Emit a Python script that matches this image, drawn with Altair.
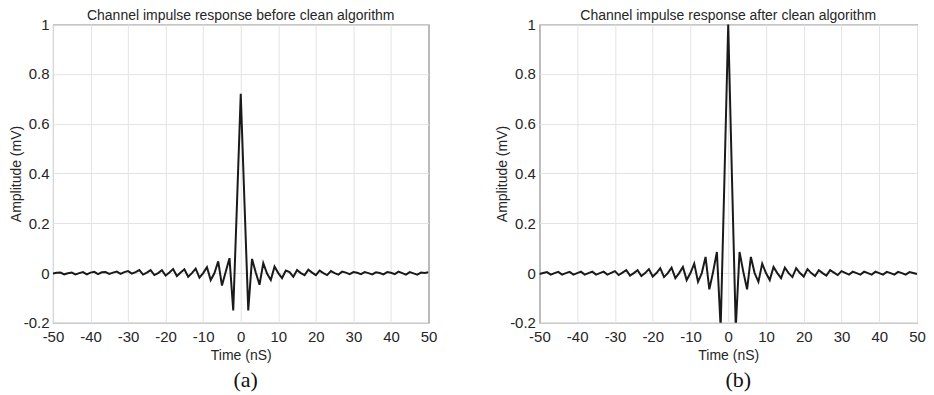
import altair as alt
import pandas as pd

TIME = list(range(-50, 51))

# Panel (a): before clean algorithm, t = -50 ... 50 (step 1 nS)
AMP_BEFORE = [
    -0.002, 0.001, 0.002, -0.005, -0.001, 0.002, -0.005, 0.000, 0.004, -0.005,   # -50..-41
    0.002, 0.005, -0.004, 0.003, 0.004, -0.003, 0.002, 0.006, -0.003, 0.004,      # -40..-31
    0.008, -0.002, 0.004, 0.012, -0.006, 0.002, 0.012, -0.008, 0.000, 0.012,      # -30..-21
    -0.010, 0.002, 0.016, -0.012, 0.002, 0.015, -0.015, 0.000, 0.018, -0.018,     # -20..-11
    0.000, 0.024, -0.028, 0.000, 0.047, -0.050, 0.005, 0.060, -0.150, 0.280,      # -10..-1
    0.720,                                                                        # 0
    0.280, -0.150, 0.057, 0.002, -0.047, 0.040, -0.002, -0.028, 0.026, 0.000,     # 1..10
    -0.020, 0.010, 0.004, -0.015, 0.012, 0.000, -0.008, 0.014, 0.002, -0.008,     # 11..20
    0.010, 0.000, -0.008, 0.008, 0.000, -0.006, 0.006, 0.002, -0.004, 0.004,      # 21..30
    0.001, -0.004, 0.004, 0.000, -0.005, 0.003, 0.000, -0.005, 0.004, 0.001,      # 31..40
    -0.004, 0.006, 0.000, -0.006, 0.004, -0.001, -0.006, 0.002, 0.000, 0.003,     # 41..50
]

# Panel (b): after clean algorithm
AMP_AFTER = [
    -0.004, 0.000, 0.004, -0.006, 0.000, 0.005, -0.006, 0.000, 0.005, -0.006,    # -50..-41
    0.000, 0.006, -0.006, 0.000, 0.006, -0.006, 0.000, 0.006, -0.006, 0.001,      # -40..-31
    0.008, -0.008, 0.002, 0.012, -0.010, 0.000, 0.012, -0.012, 0.000, 0.016,      # -30..-21
    -0.014, 0.000, 0.020, -0.016, 0.000, 0.022, -0.020, 0.000, 0.025, -0.028,     # -20..-11
    0.000, 0.038, -0.035, 0.000, 0.065, -0.065, 0.005, 0.085, -0.220, 0.380,      # -10..-1
    1.000,                                                                        # 0
    0.380, -0.220, 0.085, 0.005, -0.065, 0.065, 0.000, -0.035, 0.038, 0.000,      # 1..10
    -0.028, 0.025, 0.000, -0.020, 0.022, 0.000, -0.016, 0.020, 0.000, -0.014,     # 11..20
    0.016, 0.000, -0.012, 0.012, 0.000, -0.010, 0.012, 0.002, -0.008, 0.008,      # 21..30
    0.001, -0.006, 0.006, 0.000, -0.006, 0.006, 0.000, -0.006, 0.006, 0.000,      # 31..40
    -0.006, 0.005, 0.000, -0.006, 0.005, 0.000, -0.006, 0.004, 0.000, -0.004,     # 41..50
]

XTICKS = [-50, -40, -30, -20, -10, 0, 10, 20, 30, 40, 50]
YTICKS = [-0.2, 0, 0.2, 0.4, 0.6, 0.8, 1]

TITLES = ["Channel impulse response before clean algorithm",
          "Channel impulse response after clean algorithm"]
LABELS = ["(a)", "(b)"]

H = 299
FONT = "Liberation Sans"
TXT = "#262626"


def panel(values, title, label, label_x, width):
    df = pd.DataFrame({"t": TIME, "amp": values})
    line = alt.Chart(df).mark_line(color="#1a1a1a", strokeWidth=2, clip=True).encode(
        x=alt.X("t:Q",
                scale=alt.Scale(domain=[-50, 50], nice=False, zero=False),
                axis=alt.Axis(values=XTICKS, title="Time (nS)",
                              labelExpr="'' + datum.value")),
        y=alt.Y("amp:Q",
                scale=alt.Scale(domain=[-0.2, 1], nice=False, zero=False),
                axis=alt.Axis(values=YTICKS, title="Amplitude (mV)",
                              labelExpr="'' + datum.value")),
    )
    lab = alt.Chart(pd.DataFrame({"lab": [label]})).mark_text(
        font="Liberation Serif", fontSize=22, color="#111111", baseline="middle"
    ).encode(text="lab:N", x=alt.value(label_x), y=alt.value(356))
    return alt.layer(line, lab).properties(
        width=width, height=H,
        title=alt.TitleParams(title, fontSize=14, font=FONT, fontWeight="normal",
                              color=TXT, offset=-6, frame="group"),
    )


a = panel(AMP_BEFORE, TITLES[0], LABELS[0], 193, 376)
b = panel(AMP_AFTER, TITLES[1], LABELS[1], 199, 378)

chart = alt.hconcat(a, b, spacing=111, bounds="flush").properties(
    padding={"left": 0, "top": 0, "right": 0, "bottom": 0}
).configure_view(
    stroke="#262626", strokeWidth=1
).configure_axis(
    domain=False, ticks=False, grid=True, gridColor="#e3e3e3", gridWidth=1,
    labelFont=FONT, labelFontSize=15, labelColor=TXT, labelPadding=4,
    titleFont=FONT, titleFontSize=14, titleFontWeight="normal", titleColor=TXT,
).configure_axisX(
    titlePadding=4, labelFlush=False, labelPadding=7
).configure_axisY(
    titlePadding=0, labelFlush=False
)

chart.save("out.html", embed_options={"renderer": "svg", "actions": False})
